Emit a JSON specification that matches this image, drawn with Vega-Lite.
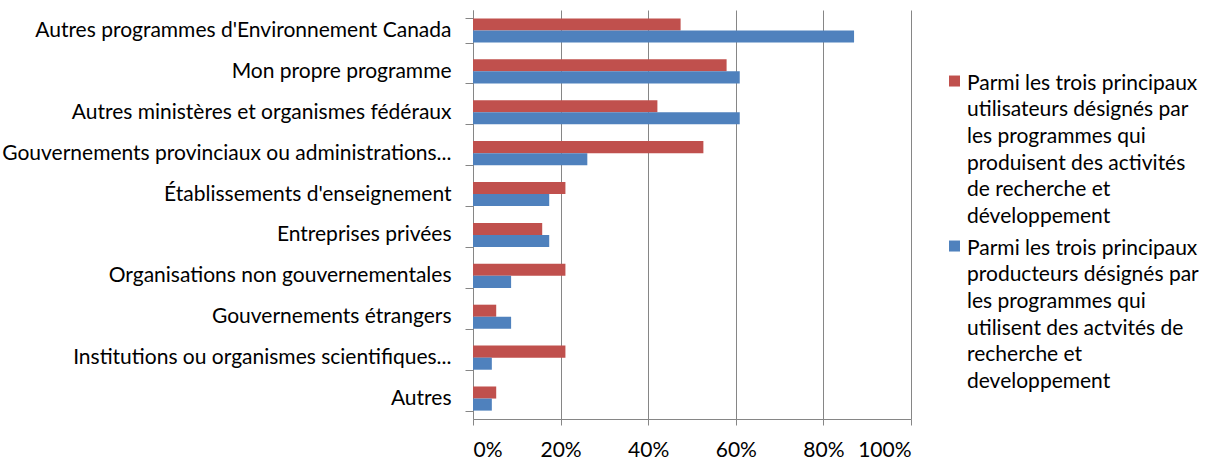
{
  "$schema": "https://vega.github.io/schema/vega-lite/v6.json",
  "width": 438,
  "height": 409,
  "autosize": {"type": "none"},
  "padding": {"left": 473, "top": 10, "right": 297, "bottom": 40},
  "background": "white",
  "data": {
    "values": [
      {"cat": "Autres programmes d'Environnement Canada", "serie": "u", "value": 0.474},
      {"cat": "Autres programmes d'Environnement Canada", "serie": "p", "value": 0.870},
      {"cat": "Mon propre programme", "serie": "u", "value": 0.579},
      {"cat": "Mon propre programme", "serie": "p", "value": 0.609},
      {"cat": "Autres ministères et organismes fédéraux", "serie": "u", "value": 0.421},
      {"cat": "Autres ministères et organismes fédéraux", "serie": "p", "value": 0.609},
      {"cat": "Gouvernements provinciaux ou administrations...", "serie": "u", "value": 0.526},
      {"cat": "Gouvernements provinciaux ou administrations...", "serie": "p", "value": 0.261},
      {"cat": "Établissements d'enseignement", "serie": "u", "value": 0.211},
      {"cat": "Établissements d'enseignement", "serie": "p", "value": 0.174},
      {"cat": "Entreprises privées", "serie": "u", "value": 0.158},
      {"cat": "Entreprises privées", "serie": "p", "value": 0.174},
      {"cat": "Organisations non gouvernementales", "serie": "u", "value": 0.211},
      {"cat": "Organisations non gouvernementales", "serie": "p", "value": 0.087},
      {"cat": "Gouvernements étrangers", "serie": "u", "value": 0.053},
      {"cat": "Gouvernements étrangers", "serie": "p", "value": 0.087},
      {"cat": "Institutions ou organismes scientifiques...", "serie": "u", "value": 0.211},
      {"cat": "Institutions ou organismes scientifiques...", "serie": "p", "value": 0.043},
      {"cat": "Autres", "serie": "u", "value": 0.053},
      {"cat": "Autres", "serie": "p", "value": 0.043}
    ]
  },
  "mark": {"type": "bar"},
  "encoding": {
    "y": {
      "field": "cat",
      "type": "nominal",
      "sort": null,
      "title": null,
      "scale": {"paddingInner": 0.41, "paddingOuter": 0.205},
      "axis": {
        "tickBand": "extent",
        "tickSize": 8,
        "tickColor": "#868686",
        "domainColor": "#868686",
        "labelPadding": 14,
        "labelFont": "Lato",
        "labelFontSize": 21,
        "labelColor": "#000000",
        "labelLimit": 500,
        "grid": false
      }
    },
    "yOffset": {
      "field": "serie",
      "type": "nominal",
      "sort": ["u", "p"],
      "scale": {"paddingInner": 0, "paddingOuter": 0}
    },
    "x": {
      "field": "value",
      "type": "quantitative",
      "scale": {"domain": [0, 1]},
      "title": null,
      "axis": {
        "format": ".0%",
        "values": [0, 0.2, 0.4, 0.6, 0.8, 1],
        "grid": true,
        "gridColor": "#868686",
        "gridOpacity": 1,
        "tickSize": 6,
        "tickColor": "#868686",
        "domainColor": "#868686",
        "labelPadding": 14,
        "labelFont": "Lato",
        "labelFontSize": 21,
        "labelColor": "#000000"
      }
    },
    "color": {
      "field": "serie",
      "type": "nominal",
      "sort": ["u", "p"],
      "scale": {"domain": ["u", "p"], "range": ["#C0504D", "#4F81BD"]},
      "legend": {
        "title": null,
        "orient": "none",
        "legendX": 471,
        "legendY": 52,
        "symbolType": "M-1,0.55H1V2.55H-1Z",
        "symbolSize": 121,
        "symbolOpacity": 1,
        "symbolStrokeWidth": 0,
        "labelFont": "Lato",
        "labelFontSize": 21,
        "labelColor": "#000000",
        "labelOffset": 2,
        "labelLimit": 400,
        "rowPadding": 0,
        "labelBaseline": "top",
        "labelExpr": "datum.value == 'u' ? ['Parmi les trois principaux', 'utilisateurs désignés par', 'les programmes qui', 'produisent des activités', 'de recherche et', 'développement'] : ['Parmi les trois principaux', 'producteurs désignés par', 'les programmes qui', 'utilisent des actvités de', 'recherche et', 'developpement']"
      }
    }
  },
  "config": {
    "view": {"stroke": null},
    "style": {"guide-label": {"lineHeight": 26.7}}
  }
}
